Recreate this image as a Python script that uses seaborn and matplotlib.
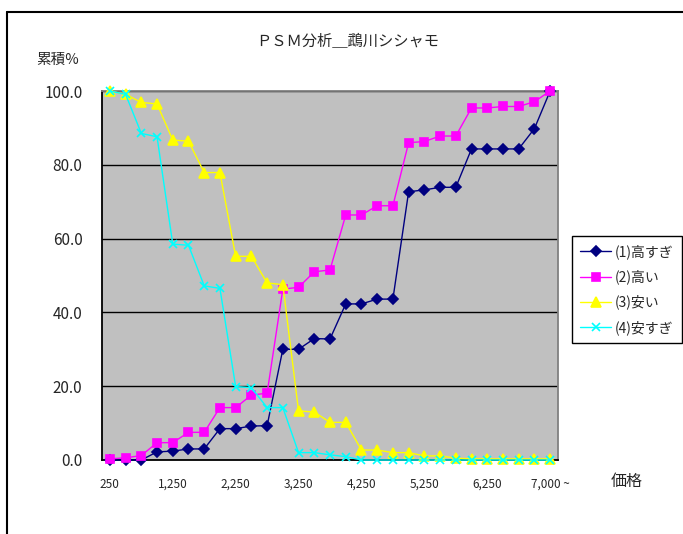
import numpy as np
import matplotlib
matplotlib.use("Agg")
import matplotlib.pyplot as plt
import seaborn as sns
from matplotlib.lines import Line2D

# price categories (x axis)
price_labels = ["250", "500", "750", "1,000", "1,250", "1,500", "1,750", "2,000",
                "2,250", "2,500", "2,750", "3,000", "3,250", "3,500", "3,750", "4,000",
                "4,250", "4,500", "4,750", "5,000", "5,250", "5,500", "5,750", "6,000",
                "6,250", "6,500", "6,750", "7,000", "7,000 ~"]

# cumulative % per series
too_high = [0, 0, 0, 2.2, 2.4, 3.0, 3.0, 8.5, 8.5, 9.2, 9.3, 30.0, 30.0, 32.9, 32.8,
            42.3, 42.3, 43.6, 43.6, 72.7, 73.2, 73.9, 73.9, 84.3, 84.3, 84.3, 84.3, 89.8, 100.0]
high = [0.3, 0.6, 1.2, 4.7, 4.7, 7.5, 7.5, 14.2, 14.2, 17.6, 18.1, 46.3, 46.8, 51.0, 51.5,
        66.4, 66.4, 68.9, 68.9, 86.0, 86.3, 87.8, 87.8, 95.4, 95.4, 95.8, 95.8, 97.1, 100.0]
cheap = [100.0, 99.1, 96.9, 96.5, 86.7, 86.4, 77.9, 77.9, 55.2, 55.2, 48.0, 47.5, 13.3, 13.0,
         10.2, 10.2, 2.7, 2.7, 2.0, 2.0, 1.1, 1.1, 0.5, 0.3, 0.3, 0.3, 0.3, 0.3, 0.3]
too_cheap = [100.0, 99.1, 88.5, 87.6, 58.5, 58.2, 47.2, 46.5, 19.9, 19.6, 14.2, 14.2, 2.0, 2.0,
             1.4, 0.9, 0, 0, 0, 0, 0, 0, 0, 0, 0, 0, 0, 0, 0]

series_names = ["(1)高すぎ", "(2)高い", "(3)安い", "(4)安すぎ"]
y_ticks = [0, 20, 40, 60, 80, 100]

sns.set_style("white")
plt.rcParams['font.family'] = ['Noto Sans CJK JP', 'DejaVu Sans']

fig = plt.figure(figsize=(6.83, 5.34), dpi=100)
fig.patch.set_facecolor("white")
ax = fig.add_axes([102 / 683, 74 / 534, 456 / 683, 369 / 534])
ax.set_facecolor("#C0C0C0")

x = np.arange(len(price_labels))
styles = [("#000080", "D", 5), ("#FF00FF", "s", 5.5), ("#FFFF00", "^", 6.5), ("#00FFFF", "x", 6)]
for name, vals, (color, marker, ms) in zip(series_names, [too_high, high, cheap, too_cheap], styles):
    sns.lineplot(x=x, y=vals, ax=ax, color=color, marker=marker, markersize=ms,
                 markeredgecolor=color, markeredgewidth=1.2, linewidth=1.0, label=name,
                 clip_on=False, zorder=3)

ax.set_xlim(-0.5, len(price_labels) - 0.5)
ax.set_ylim(0, 100)
ax.set_xticks(x[::4])
ax.set_xticklabels(price_labels[::4])
ax.set_xticks(np.arange(-0.5, len(price_labels), 1), minor=True)
ax.tick_params(axis="x", which="major", length=0, pad=13, labelsize=8.5)
ax.tick_params(axis="x", which="minor", direction="in", length=4, width=1, color="black")
ax.set_yticks(y_ticks)
ax.set_yticklabels([f"{v:.1f}" for v in y_ticks])
ax.tick_params(axis="y", direction="in", length=5, width=1, color="black", pad=14, labelsize=11)
ax.grid(axis="y", color="black", linewidth=1)
ax.grid(axis="x", visible=False)
ax.set_axisbelow(True)
ax.set_xlabel("")
ax.set_ylabel("")

for side in ["left", "bottom"]:
    ax.spines[side].set_color("black")
    ax.spines[side].set_linewidth(1.3)
for side in ["top", "right"]:
    ax.spines[side].set_color("#808080")
    ax.spines[side].set_linewidth(1.3)

leg = ax.legend(loc="upper left", bbox_to_anchor=(572 / 683, 1 - 236 / 534),
                bbox_transform=fig.transFigure, frameon=True, fancybox=False,
                edgecolor="black", framealpha=1, fontsize=10, handlelength=2.2,
                handletextpad=0.3, borderpad=0.6, labelspacing=0.75, borderaxespad=0)
leg.get_frame().set_linewidth(1.0)

fig.text(348 / 683, 1 - 42 / 534, "ＰＳＭ分析＿鵡川シシャモ", ha="center", va="center", fontsize=11)
fig.text(58 / 683, 1 - 60 / 534, "累積%", ha="center", va="center", fontsize=10.5)
fig.text(627 / 683, 1 - 481 / 534, "価格", ha="center", va="center", fontsize=11.5)

# outer chart border (left and top edges visible)
fig.add_artist(Line2D([7 / 683, 7 / 683], [0, 1 - 12 / 534], color="black", lw=1.5,
                      transform=fig.transFigure))
fig.add_artist(Line2D([7 / 683, 1], [1 - 12 / 534, 1 - 12 / 534], color="black", lw=1.5,
                      transform=fig.transFigure))

fig.savefig("out.png", dpi=100)
